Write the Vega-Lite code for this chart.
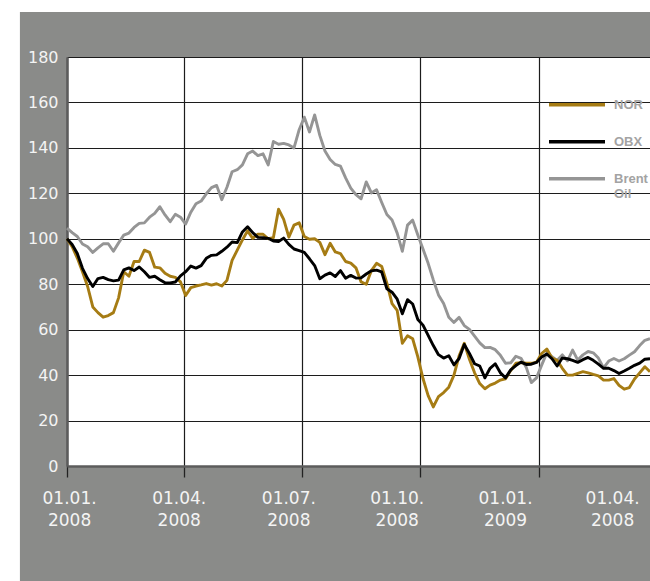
{
  "$schema": "https://vega.github.io/schema/vega-lite/v6.json",
  "width": 583,
  "height": 409,
  "autosize": {"type": "none"},
  "padding": {"left": 67, "top": 57, "right": 0, "bottom": 115},
  "config": {
    "background": "#8a8b89",
    "view": {"fill": "white", "stroke": null},
    "font": "DejaVu Sans",
    "axisX": {
      "title": null, "labels": false,
      "ticks": true, "tickSize": 11, "tickColor": "#222222", "tickWidth": 1.3,
      "domain": true, "domainColor": "#5c5c5c", "domainWidth": 2.5,
      "grid": true, "gridColor": "#1c1c1c", "gridWidth": 1.2
    },
    "axisY": {
      "title": null,
      "ticks": false, "tickSize": 0, "labelPadding": 9,
      "labelFont": "DejaVu Sans", "labelFontSize": 16, "labelColor": "#f4f4f4",
      "domain": true, "domainColor": "#5c5c5c", "domainWidth": 2.5,
      "grid": true, "gridColor": "#1c1c1c", "gridWidth": 1.2
    }
  },
  "datasets": {
    "series": [
      {"d":"2008-01-01","Brent Oil":104.7,"NOR":100,"OBX":100},
      {"d":"2008-01-05","Brent Oil":102.7,"NOR":96.5,"OBX":97.5},
      {"d":"2008-01-09","Brent Oil":101,"NOR":91.5,"OBX":93.5},
      {"d":"2008-01-13","Brent Oil":97.7,"NOR":85.5,"OBX":87},
      {"d":"2008-01-17","Brent Oil":96.5,"NOR":79,"OBX":82.5},
      {"d":"2008-01-21","Brent Oil":94,"NOR":70,"OBX":79},
      {"d":"2008-01-25","Brent Oil":96,"NOR":67.5,"OBX":82.5},
      {"d":"2008-01-29","Brent Oil":97.8,"NOR":65.5,"OBX":83},
      {"d":"2008-02-02","Brent Oil":97.8,"NOR":66.2,"OBX":82},
      {"d":"2008-02-06","Brent Oil":94.5,"NOR":67.5,"OBX":81.5},
      {"d":"2008-02-10","Brent Oil":98.2,"NOR":74,"OBX":81.8},
      {"d":"2008-02-14","Brent Oil":101.6,"NOR":85.5,"OBX":86.3},
      {"d":"2008-02-18","Brent Oil":102.5,"NOR":83.5,"OBX":87.2},
      {"d":"2008-02-22","Brent Oil":105,"NOR":90,"OBX":86},
      {"d":"2008-02-26","Brent Oil":106.8,"NOR":90,"OBX":87.6},
      {"d":"2008-03-01","Brent Oil":107,"NOR":95,"OBX":85.5},
      {"d":"2008-03-05","Brent Oil":109.5,"NOR":94,"OBX":83},
      {"d":"2008-03-09","Brent Oil":111.2,"NOR":87.5,"OBX":83.5},
      {"d":"2008-03-13","Brent Oil":114.1,"NOR":87.2,"OBX":82},
      {"d":"2008-03-17","Brent Oil":110.5,"NOR":84.8,"OBX":80.6},
      {"d":"2008-03-21","Brent Oil":107.5,"NOR":83.5,"OBX":80.6},
      {"d":"2008-03-25","Brent Oil":110.8,"NOR":83,"OBX":81},
      {"d":"2008-03-29","Brent Oil":109.5,"NOR":81,"OBX":83.7},
      {"d":"2008-04-02","Brent Oil":106.5,"NOR":75,"OBX":85.5},
      {"d":"2008-04-06","Brent Oil":111.7,"NOR":78.5,"OBX":88},
      {"d":"2008-04-10","Brent Oil":115.4,"NOR":79.2,"OBX":87.1},
      {"d":"2008-04-14","Brent Oil":116.6,"NOR":79.7,"OBX":88.2},
      {"d":"2008-04-18","Brent Oil":119.8,"NOR":80.3,"OBX":91.4},
      {"d":"2008-04-22","Brent Oil":122.5,"NOR":79.6,"OBX":92.7},
      {"d":"2008-04-26","Brent Oil":123.5,"NOR":80.2,"OBX":92.9},
      {"d":"2008-04-30","Brent Oil":117.2,"NOR":79.2,"OBX":94.5},
      {"d":"2008-05-04","Brent Oil":122.7,"NOR":81.7,"OBX":96.3},
      {"d":"2008-05-08","Brent Oil":129.5,"NOR":90.5,"OBX":98.6},
      {"d":"2008-05-12","Brent Oil":130.4,"NOR":95,"OBX":98.3},
      {"d":"2008-05-16","Brent Oil":132.5,"NOR":99.5,"OBX":103},
      {"d":"2008-05-20","Brent Oil":137.4,"NOR":103.5,"OBX":105.3},
      {"d":"2008-05-24","Brent Oil":138.6,"NOR":100.2,"OBX":102.7},
      {"d":"2008-05-28","Brent Oil":136.6,"NOR":102,"OBX":100.6},
      {"d":"2008-06-01","Brent Oil":137.4,"NOR":102,"OBX":100.5},
      {"d":"2008-06-05","Brent Oil":132.5,"NOR":100,"OBX":100.2},
      {"d":"2008-06-09","Brent Oil":142.8,"NOR":100.5,"OBX":99},
      {"d":"2008-06-13","Brent Oil":141.6,"NOR":113,"OBX":98.8},
      {"d":"2008-06-17","Brent Oil":142,"NOR":108.5,"OBX":100.3},
      {"d":"2008-06-21","Brent Oil":141.3,"NOR":100.7,"OBX":97.5},
      {"d":"2008-06-25","Brent Oil":140,"NOR":106,"OBX":95.5},
      {"d":"2008-06-29","Brent Oil":148,"NOR":107,"OBX":94.8},
      {"d":"2008-07-03","Brent Oil":153.5,"NOR":101,"OBX":94},
      {"d":"2008-07-07","Brent Oil":147,"NOR":99.8,"OBX":91.2},
      {"d":"2008-07-11","Brent Oil":154.5,"NOR":100,"OBX":88.2},
      {"d":"2008-07-15","Brent Oil":145.5,"NOR":98.4,"OBX":82.4},
      {"d":"2008-07-19","Brent Oil":138.6,"NOR":93,"OBX":84},
      {"d":"2008-07-23","Brent Oil":134.9,"NOR":98,"OBX":85},
      {"d":"2008-07-27","Brent Oil":132.7,"NOR":94.2,"OBX":83.4},
      {"d":"2008-07-31","Brent Oil":132,"NOR":93.5,"OBX":86},
      {"d":"2008-08-04","Brent Oil":126.8,"NOR":90,"OBX":82.6},
      {"d":"2008-08-08","Brent Oil":122.3,"NOR":89.3,"OBX":83.9},
      {"d":"2008-08-12","Brent Oil":119.4,"NOR":87.2,"OBX":82.7},
      {"d":"2008-08-16","Brent Oil":117.6,"NOR":81,"OBX":82.8},
      {"d":"2008-08-20","Brent Oil":125,"NOR":80,"OBX":84.5},
      {"d":"2008-08-24","Brent Oil":120.2,"NOR":86,"OBX":85.9},
      {"d":"2008-08-28","Brent Oil":121.6,"NOR":89.2,"OBX":86.2},
      {"d":"2008-09-01","Brent Oil":116,"NOR":87.8,"OBX":85.4},
      {"d":"2008-09-05","Brent Oil":110.7,"NOR":80.5,"OBX":78},
      {"d":"2008-09-09","Brent Oil":108.3,"NOR":71.5,"OBX":76.5},
      {"d":"2008-09-13","Brent Oil":102.5,"NOR":68.5,"OBX":73.4},
      {"d":"2008-09-17","Brent Oil":94.5,"NOR":54,"OBX":67},
      {"d":"2008-09-21","Brent Oil":106,"NOR":57.3,"OBX":73.2},
      {"d":"2008-09-25","Brent Oil":108.2,"NOR":56,"OBX":71.3},
      {"d":"2008-09-29","Brent Oil":101.7,"NOR":48,"OBX":64.5},
      {"d":"2008-10-03","Brent Oil":95.5,"NOR":38.5,"OBX":62},
      {"d":"2008-10-07","Brent Oil":89.2,"NOR":31,"OBX":57.5},
      {"d":"2008-10-11","Brent Oil":81.9,"NOR":26,"OBX":53},
      {"d":"2008-10-15","Brent Oil":75.3,"NOR":30.5,"OBX":49},
      {"d":"2008-10-19","Brent Oil":71.5,"NOR":32.3,"OBX":47.5},
      {"d":"2008-10-23","Brent Oil":65.5,"NOR":34.7,"OBX":48.5},
      {"d":"2008-10-27","Brent Oil":63.2,"NOR":40,"OBX":44.5},
      {"d":"2008-10-31","Brent Oil":65.4,"NOR":48.5,"OBX":47.3},
      {"d":"2008-11-04","Brent Oil":61.8,"NOR":54,"OBX":53.5},
      {"d":"2008-11-08","Brent Oil":60.1,"NOR":47,"OBX":49.5},
      {"d":"2008-11-12","Brent Oil":57.2,"NOR":41,"OBX":45},
      {"d":"2008-11-16","Brent Oil":54.2,"NOR":36.3,"OBX":44},
      {"d":"2008-11-20","Brent Oil":52.1,"NOR":34,"OBX":38.8},
      {"d":"2008-11-24","Brent Oil":52.2,"NOR":35.6,"OBX":43},
      {"d":"2008-11-28","Brent Oil":51.2,"NOR":36.5,"OBX":45},
      {"d":"2008-12-02","Brent Oil":48.7,"NOR":37.8,"OBX":41},
      {"d":"2008-12-06","Brent Oil":45.2,"NOR":38.4,"OBX":38.8},
      {"d":"2008-12-10","Brent Oil":45.4,"NOR":42,"OBX":42.3},
      {"d":"2008-12-14","Brent Oil":48.3,"NOR":45.2,"OBX":44.2},
      {"d":"2008-12-18","Brent Oil":47.4,"NOR":45.5,"OBX":45.7},
      {"d":"2008-12-22","Brent Oil":43.5,"NOR":45.2,"OBX":44.7},
      {"d":"2008-12-26","Brent Oil":36.7,"NOR":45.2,"OBX":44.8},
      {"d":"2008-12-30","Brent Oil":38.8,"NOR":45.7,"OBX":45.6},
      {"d":"2009-01-03","Brent Oil":44.4,"NOR":49.5,"OBX":48},
      {"d":"2009-01-07","Brent Oil":49.8,"NOR":51.5,"OBX":49.3},
      {"d":"2009-01-11","Brent Oil":48.1,"NOR":47.5,"OBX":47.2},
      {"d":"2009-01-15","Brent Oil":46.5,"NOR":46.5,"OBX":44},
      {"d":"2009-01-19","Brent Oil":48.9,"NOR":43,"OBX":47.5},
      {"d":"2009-01-23","Brent Oil":46.3,"NOR":40,"OBX":47.2},
      {"d":"2009-01-27","Brent Oil":51,"NOR":40,"OBX":46.5},
      {"d":"2009-01-31","Brent Oil":46.6,"NOR":40.8,"OBX":45.6},
      {"d":"2009-02-04","Brent Oil":48.9,"NOR":41.5,"OBX":46.8},
      {"d":"2009-02-08","Brent Oil":50.4,"NOR":41,"OBX":47.8},
      {"d":"2009-02-12","Brent Oil":49.8,"NOR":40.3,"OBX":46.5},
      {"d":"2009-02-16","Brent Oil":47.5,"NOR":39.7,"OBX":44.8},
      {"d":"2009-02-20","Brent Oil":43.2,"NOR":37.8,"OBX":43},
      {"d":"2009-02-24","Brent Oil":46.2,"NOR":37.8,"OBX":43},
      {"d":"2009-02-28","Brent Oil":47.3,"NOR":38.5,"OBX":42},
      {"d":"2009-03-04","Brent Oil":46.2,"NOR":35.5,"OBX":40.7},
      {"d":"2009-03-08","Brent Oil":47.2,"NOR":33.8,"OBX":41.8},
      {"d":"2009-03-12","Brent Oil":48.8,"NOR":34.5,"OBX":43},
      {"d":"2009-03-16","Brent Oil":50.3,"NOR":38.3,"OBX":44.3},
      {"d":"2009-03-20","Brent Oil":53,"NOR":41,"OBX":45.3},
      {"d":"2009-03-24","Brent Oil":55.3,"NOR":43.7,"OBX":47},
      {"d":"2009-03-28","Brent Oil":56,"NOR":41.5,"OBX":47.2}
    ],
    "ticklabels": [
      {"d":"2008-01-03","lab":"01.01.\n2008"},
      {"d":"2008-03-28","lab":"01.04.\n2008"},
      {"d":"2008-06-21","lab":"01.07.\n2008"},
      {"d":"2008-09-13","lab":"01.10.\n2008"},
      {"d":"2008-12-06","lab":"01.01.\n2009"},
      {"d":"2009-02-27","lab":"01.04.\n2008"}
    ]
  },
  "layer": [
    {
      "data": {"values": [{}]},
      "mark": {"type": "rect", "color": "white"},
      "encoding": {
        "x": {"datum": {"year": 2007, "month": 1, "date": 1, "utc": true}, "type": "temporal"},
        "x2": {"datum": {"year": 2010, "month": 1, "date": 1, "utc": true}},
        "y": {"datum": 199.8, "type": "quantitative"},
        "y2": {"datum": 300}
      }
    },
    {
      "data": {"values": [{}]},
      "mark": {"type": "rect", "color": "white"},
      "encoding": {
        "x": {"datum": {"year": 2007, "month": 1, "date": 1, "utc": true}, "type": "temporal"},
        "x2": {"datum": {"year": 2007, "month": 11, "date": 25, "hours": 12, "utc": true}},
        "y": {"datum": -120, "type": "quantitative"},
        "y2": {"datum": 300}
      }
    },
    {
      "data": {"name": "series"},
      "transform": [{"fold": ["Brent Oil", "NOR", "OBX"], "as": ["series", "v"]}],
      "mark": {"type": "line", "strokeWidth": 2.9, "strokeJoin": "round"},
      "encoding": {
        "x": {
          "field": "d", "type": "temporal",
          "scale": {"type": "utc", "domain": [{"year": 2008, "month": 1, "date": 1, "utc": true}, {"year": 2009, "month": 3, "date": 28, "utc": true}]},
          "axis": {
            "values": [
              {"year": 2008, "month": 1, "date": 1, "utc": true},
              {"year": 2008, "month": 4, "date": 1, "utc": true},
              {"year": 2008, "month": 7, "date": 1, "utc": true},
              {"year": 2008, "month": 10, "date": 1, "utc": true},
              {"year": 2009, "month": 1, "date": 1, "utc": true}
            ]
          }
        },
        "y": {
          "field": "v", "type": "quantitative",
          "scale": {"domain": [0, 180], "nice": false},
          "axis": {"values": [0, 20, 40, 60, 80, 100, 120, 140, 160, 180]}
        },
        "color": {
          "field": "series", "type": "nominal",
          "scale": {"domain": ["NOR", "OBX", "Brent Oil"], "range": ["#a67c14", "#000000", "#959595"]},
          "legend": {
            "orient": "none", "legendX": 480, "legendY": 17.7, "title": null,
            "symbolType": "stroke", "symbolSize": 3136, "symbolStrokeWidth": 3.5,
            "rowPadding": -14.5, "padding": 0,
            "labelFont": "Liberation Sans", "labelFontSize": 13, "labelFontWeight": "bold",
            "labelColor": "#a3a3a3", "labelOffset": 7,
            "labelExpr": "datum.label == 'Brent Oil' ? ['Brent', 'Oil'] : datum.label"
          }
        }
      }
    },
    {
      "data": {"name": "ticklabels"},
      "mark": {"type": "text", "align": "center", "baseline": "top", "font": "DejaVu Sans", "fontSize": 17, "color": "#f4f4f4", "lineBreak": "\n", "lineHeight": 22},
      "encoding": {
        "x": {"field": "d", "type": "temporal"},
        "y": {"datum": -11, "type": "quantitative"},
        "text": {"field": "lab", "type": "nominal"}
      }
    }
  ]
}
